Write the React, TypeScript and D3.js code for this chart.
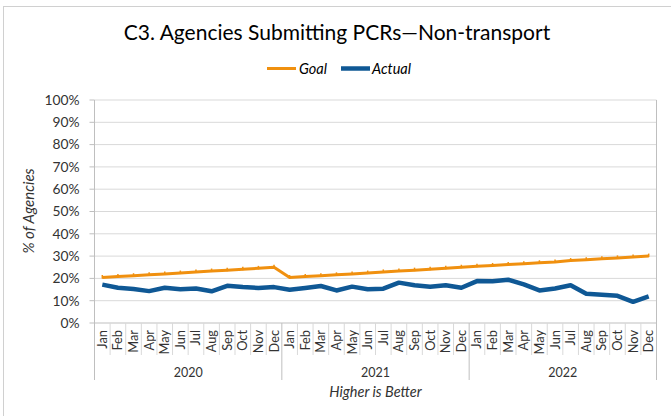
import React from 'react';
import * as d3 from 'd3';

const months = ['Jan', 'Feb', 'Mar', 'Apr', 'May', 'Jun', 'Jul', 'Aug', 'Sep', 'Oct', 'Nov', 'Dec'];
const years = ['2020', '2021', '2022'];
const yTicks = [0, 0.1, 0.2, 0.3, 0.4, 0.5, 0.6, 0.7, 0.8, 0.9, 1];

const goal = [
  20.4, 20.8, 21.2, 21.6, 22.0, 22.4, 22.9, 23.3, 23.7, 24.1, 24.5, 25.0,
  20.4, 20.8, 21.2, 21.6, 22.0, 22.4, 22.9, 23.3, 23.7, 24.1, 24.5, 25.0,
  25.4, 25.8, 26.2, 26.6, 27.0, 27.4, 28.0, 28.4, 28.8, 29.2, 29.6, 30.0,
];
const actual = [
  17.2, 15.8, 15.2, 14.3, 15.8, 15.1, 15.5, 14.2, 16.7, 16.1, 15.7, 16.1,
  14.9, 15.7, 16.6, 14.6, 16.3, 15.1, 15.4, 18.1, 16.9, 16.3, 16.9, 15.8,
  18.8, 18.7, 19.4, 17.3, 14.6, 15.5, 16.9, 13.1, 12.7, 12.2, 9.5, 11.9,
];

const W = 671;
const H = 416;
const plot = { left: 94.5, right: 656.5, top: 100, bottom: 323 };
const font = 'Lato, "Open Sans", sans-serif';
const orange = '#F0900F';
const blue = '#0F5895';
const grid = '#D9D9D9';

export default function App() {
  const cats = d3.range(years.length * months.length);
  const x = d3.scaleBand<number>().domain(cats).range([plot.left, plot.right]).padding(0);
  const y = d3.scaleLinear().domain([0, 1]).range([plot.bottom, plot.top]);
  const cx = (i: number) => (x(i) || 0) + x.bandwidth() / 2;

  const line = d3.line<number>().x((_, i) => cx(i)).y(d => y(d / 100));

  return (
    <svg width={W} height={H} style={{ position: 'absolute', left: 0, top: 0 }} fontFamily={font}>
      <rect x={0} y={0} width={W} height={H} fill="#fff" />
      <rect x={3.5} y={6.5} width={700} height={450} fill="none" stroke="#D0D0D0" />

      <text x={337} y={40} textAnchor="middle" fontSize={21} fill="#000">
        C3. Agencies Submitting PCRs—Non-transport
      </text>

      {/* legend */}
      <g fontSize={14.5} fontStyle="italic" fill="#000">
        <line x1={267} x2={296} y1={68.5} y2={68.5} stroke={orange} strokeWidth={3} />
        <text x={299} y={73.5}>Goal</text>
        <line x1={341} x2={370} y1={68.5} y2={68.5} stroke={blue} strokeWidth={4.5} />
        <text x={372} y={73.5}>Actual</text>
      </g>

      {/* gridlines and y axis */}
      {yTicks.map(t => (
        <g key={t}>
          <line x1={plot.left} x2={plot.right} y1={y(t)} y2={y(t)} stroke={t === 0 ? '#BFBFBF' : grid} />
          <line x1={plot.left - 5} x2={plot.left} y1={y(t)} y2={y(t)} stroke="#BFBFBF" />
          <text x={79.5} y={y(t)} dy="0.35em" textAnchor="end" fontSize={13.8} fill="#333">
            {d3.format('.0%')(t)}
          </text>
        </g>
      ))}
      <line x1={plot.left} x2={plot.left} y1={plot.top} y2={380} stroke="#BFBFBF" />
      <line x1={plot.right} x2={plot.right} y1={plot.top} y2={380} stroke="#BFBFBF" />
      <text transform={`translate(34,211) rotate(-90)`} textAnchor="middle" fontSize={15} fontStyle="italic" fill="#333">
        % of Agencies
      </text>

      {/* category axis */}
      {cats.map(i => (
        <g key={i}>
          {i > 0 && (
            <line x1={x(i)} x2={x(i)} y1={plot.bottom} y2={i % 12 === 0 ? 380 : 355} stroke={i % 12 === 0 ? '#BFBFBF' : grid} />
          )}
          <text transform={`translate(${cx(i)},330) rotate(-90)`} textAnchor="end" dy="0.35em" fontSize={12.8} fill="#333">
            {months[i % 12]}
          </text>
        </g>
      ))}
      {years.map((yr, k) => (
        <text key={yr} x={((x(k * 12) || 0) + (x(k * 12 + 11) || 0) + x.bandwidth()) / 2} y={377} textAnchor="middle" fontSize={12.5} fill="#333">
          {yr}
        </text>
      ))}
      <text x={(plot.left + plot.right) / 2} y={396.5} textAnchor="middle" fontSize={14.5} fontStyle="italic" fill="#333">
        Higher is Better
      </text>

      {/* series */}
      <path d={line(goal) || ''} fill="none" stroke={orange} strokeWidth={3} strokeLinejoin="round" />
      {goal.map((v, i) => (
        <line key={i} x1={cx(i)} x2={cx(i)} y1={y(v / 100) - 2.5} y2={y(v / 100) + 1} stroke={orange} strokeWidth={1.5} />
      ))}
      <path d={line(actual) || ''} fill="none" stroke={blue} strokeWidth={4.5} strokeLinejoin="round" />
    </svg>
  );
}
